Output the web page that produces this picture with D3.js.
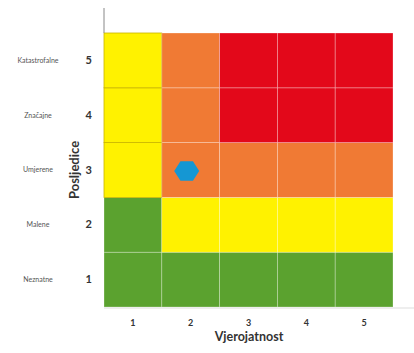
<!DOCTYPE html>
<html><head><meta charset="utf-8">
<script src="https://cdn.jsdelivr.net/npm/d3@7/dist/d3.min.js"></script>
<style>body{margin:0;background:#fff}svg{display:block}</style>
</head><body>
<svg id="c" width="414" height="353"></svg>
<script>
const probability = [1, 2, 3, 4, 5];
const consequence = [1, 2, 3, 4, 5];
const consequenceLabels = ["Neznatne", "Malene", "Umjerene", "Značajne", "Katastrofalne"];
// risk level per row (consequence 1..5), per column (probability 1..5)
const riskLevels = [
  [0, 0, 0, 0, 0],
  [0, 1, 1, 1, 1],
  [1, 2, 2, 2, 2],
  [1, 2, 3, 3, 3],
  [1, 2, 3, 3, 3]
];
const levelColors = ["#5ba22f", "#fff200", "#f07a34", "#e3081a"];
const marker = [{p: 2, c: 3}];

const svg = d3.select("#c");
const m = {l: 104, r: 21, t: 33, b: 46};
const W = 414 - m.l - m.r, H = 353 - m.t - m.b;
const x = d3.scaleBand().domain(probability).range([m.l, m.l + W]);
const y = d3.scaleBand().domain(consequence).range([m.t + H, m.t]);

const cells = [];
consequence.forEach((c, i) => probability.forEach((p, j) => cells.push({p, c, lvl: riskLevels[i][j]})));

svg.append("g").selectAll("rect").data(cells).join("rect")
  .attr("x", d => x(d.p)).attr("y", d => y(d.c))
  .attr("width", x.bandwidth()).attr("height", y.bandwidth())
  .attr("fill", d => levelColors[d.lvl])
  .attr("stroke", d => d.lvl === 1 && d.p === 1 ? "#c9b400" : "rgba(255,255,255,0.35)")
  .attr("stroke-width", 0.8);

// top axis stub and bottom baseline
svg.append("line").attr("x1", m.l).attr("x2", m.l).attr("y1", 8).attr("y2", m.t)
  .attr("stroke", "#888").attr("stroke-width", 1);
svg.append("line").attr("x1", m.l).attr("x2", 414).attr("y1", m.t + H + 1).attr("y2", m.t + H + 1)
  .attr("stroke", "#ddd").attr("stroke-width", 1);

// y tick numbers
const yAxis = d3.axisLeft(y).tickSize(0).tickPadding(12);
const gy = svg.append("g").attr("transform", `translate(${m.l},0)`).call(yAxis);
gy.select(".domain").remove();
gy.selectAll("text").attr("font-family", "Lato, 'Open Sans', sans-serif").attr("font-weight", "bold")
  .attr("font-size", 11).attr("fill", "#333");

// consequence labels
svg.append("g").selectAll("text").data(consequence).join("text")
  .attr("x", 38).attr("y", d => y(d) + y.bandwidth() / 2).attr("dy", "0.35em")
  .attr("text-anchor", "middle").attr("font-family", "Lato, 'Open Sans', sans-serif")
  .attr("font-size", 7).attr("fill", "#555")
  .text(d => consequenceLabels[d - 1]);

// x ticks
const xAxis = d3.axisBottom(x).tickSize(0).tickPadding(12);
const gx = svg.append("g").attr("transform", `translate(0,${m.t + H + 1})`).call(xAxis);
gx.select(".domain").remove();
gx.selectAll("text").attr("font-family", "Lato, 'Open Sans', sans-serif").attr("font-weight", "bold")
  .attr("font-size", 9).attr("fill", "#333");

// axis titles
svg.append("text").attr("x", 249).attr("y", 341).attr("text-anchor", "middle")
  .attr("font-family", "Lato, 'Open Sans', sans-serif").attr("font-weight", "bold")
  .attr("font-size", 12.5).attr("fill", "#333").text("Vjerojatnost");
svg.append("text").attr("transform", `translate(79,${y(3) + y.bandwidth() / 2}) rotate(-90)`)
  .attr("text-anchor", "middle")
  .attr("font-family", "Lato, 'Open Sans', sans-serif").attr("font-weight", "bold")
  .attr("font-size", 13).attr("fill", "#333").text("Posljedice");

// marker hexagon
const r = 12.5;
const hex = d3.range(6).map(k => [r * Math.cos(k * Math.PI / 3), r * 0.9 * Math.sin(k * Math.PI / 3)]);
svg.append("g").selectAll("path").data(marker).join("path")
  .attr("transform", d => `translate(${x(d.p) + x.bandwidth() / 2 - 4},${y(d.c) + y.bandwidth() / 2 + 1})`)
  .attr("d", d3.line()(hex) + "Z")
  .attr("fill", "#1597d3");
</script>
</body></html>
